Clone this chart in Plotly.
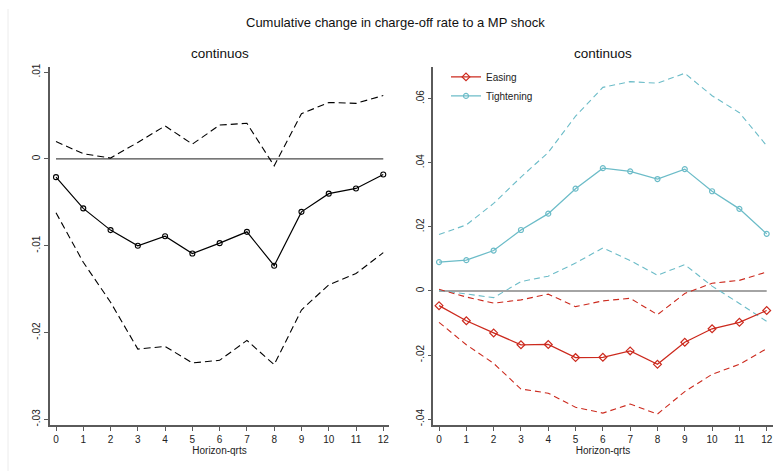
import plotly.graph_objects as go

# Horizon in quarters
horizon = list(range(13))

# Left panel: continuous shock response with bands
cont_mid = [-0.0021, -0.0057, -0.0082, -0.0100, -0.0089, -0.0109, -0.0097,
            -0.0084, -0.0123, -0.0061, -0.0040, -0.0034, -0.0018]
cont_hi = [0.0020, 0.0006, 0.0001, 0.0019, 0.0038, 0.0017, 0.0039,
           0.0041, -0.0008, 0.0052, 0.0065, 0.0064, 0.0073]
cont_lo = [-0.0062, -0.0119, -0.0165, -0.0219, -0.0216, -0.0235, -0.0232,
           -0.0209, -0.0237, -0.0174, -0.0145, -0.0132, -0.0108]

# Right panel: easing vs tightening
ease_mid = [-0.0046, -0.0093, -0.0131, -0.0168, -0.0167, -0.0208, -0.0207,
            -0.0187, -0.0229, -0.0160, -0.0118, -0.0098, -0.0061]
ease_hi = [0.0005, -0.0019, -0.0038, -0.0028, -0.0010, -0.0049, -0.0031,
           -0.0023, -0.0074, -0.0008, 0.0024, 0.0033, 0.0059]
ease_lo = [-0.0098, -0.0168, -0.0226, -0.0306, -0.0319, -0.0363, -0.0381,
           -0.0353, -0.0384, -0.0314, -0.0260, -0.0229, -0.0180]
tight_mid = [0.0090, 0.0096, 0.0126, 0.0190, 0.0241, 0.0319, 0.0383,
             0.0373, 0.0349, 0.0380, 0.0311, 0.0256, 0.0178]
tight_hi = [0.0176, 0.0206, 0.0273, 0.0355, 0.0432, 0.0545, 0.0635,
            0.0653, 0.0648, 0.0679, 0.0609, 0.0556, 0.0453]
tight_lo = [0.0002, -0.0010, -0.0021, 0.0029, 0.0046, 0.0087, 0.0134,
            0.0095, 0.0049, 0.0082, 0.0015, -0.0039, -0.0095]

left_ticks = [0.01, 0.0, -0.01, -0.02, -0.03]
left_ticktext = [".01", "0", "-.01", "-.02", "-.03"]
right_ticks = [0.06, 0.04, 0.02, 0.0, -0.02, -0.04]
right_ticktext = [".06", ".04", ".02", "0", "-.02", "-.04"]

W, H = 784, 472
FONT = "Liberation Sans, Arial, sans-serif"
AXIS_COL = "#5a5a5a"
RED = "#cc2a1e"
TEAL = "#6cbcc8"

fig = go.Figure()

# zero reference lines
for xa, ya in (("x", "y"), ("x2", "y2")):
    fig.add_trace(go.Scatter(x=[0, 12], y=[0, 0], mode="lines",
                             line=dict(color="#4a4a4a", width=1.1),
                             showlegend=False, hoverinfo="skip", xaxis=xa, yaxis=ya))

# left panel
for band in (cont_hi, cont_lo):
    fig.add_trace(go.Scatter(x=horizon, y=band, mode="lines",
                             line=dict(color="black", width=1.1, dash="7px,4px"),
                             showlegend=False, xaxis="x", yaxis="y"))
fig.add_trace(go.Scatter(x=horizon, y=cont_mid, mode="lines+markers",
                         line=dict(color="black", width=1.2),
                         marker=dict(symbol="circle-open", size=5, color="black",
                                     line=dict(width=1.1)),
                         showlegend=False, xaxis="x", yaxis="y"))

# right panel bands
for band in (tight_hi, tight_lo):
    fig.add_trace(go.Scatter(x=horizon, y=band, mode="lines",
                             line=dict(color=TEAL, width=1.1, dash="6px,4px"),
                             showlegend=False, xaxis="x2", yaxis="y2"))
for band in (ease_hi, ease_lo):
    fig.add_trace(go.Scatter(x=horizon, y=band, mode="lines",
                             line=dict(color=RED, width=1.1, dash="6px,4px"),
                             showlegend=False, xaxis="x2", yaxis="y2"))

fig.add_trace(go.Scatter(x=horizon, y=ease_mid, mode="lines+markers", name="Easing",
                         line=dict(color=RED, width=1.3),
                         marker=dict(symbol="diamond-open", size=6, color=RED,
                                     line=dict(width=1.2)),
                         xaxis="x2", yaxis="y2"))
fig.add_trace(go.Scatter(x=horizon, y=tight_mid, mode="lines+markers", name="Tightening",
                         line=dict(color=TEAL, width=1.3),
                         marker=dict(symbol="circle-open", size=5, color=TEAL,
                                     line=dict(width=1.2)),
                         xaxis="x2", yaxis="y2"))

xax = dict(range=[-0.22, 12.21], tickvals=horizon, ticks="outside", ticklen=4,
           tickcolor=AXIS_COL, showline=True, linecolor=AXIS_COL, linewidth=1.5,
           showgrid=False, zeroline=False,
           tickfont=dict(family=FONT, size=10, color="#222"),
           title=dict(text="Horizon-qrts", font=dict(family=FONT, size=10, color="#222"),
                      standoff=1))
yax = dict(ticks="outside", ticklen=4, tickcolor=AXIS_COL, showline=True,
           linecolor=AXIS_COL, linewidth=1.5, showgrid=False, zeroline=False,
           tickangle=-90, tickfont=dict(family=FONT, size=10, color="#222"))

y_dom = [1 - 425.7 / H, 1 - 64 / H]

fig.update_layout(
    width=W, height=H,
    margin=dict(l=0, r=0, t=0, b=0),
    paper_bgcolor="white", plot_bgcolor="white",
    xaxis=dict(xax, domain=[50 / W, 389 / W], anchor="y"),
    yaxis=dict(yax, domain=y_dom, anchor="x", range=[-0.03067, 0.01055],
               tickvals=left_ticks, ticktext=left_ticktext),
    xaxis2=dict(xax, domain=[433.3 / W, 772.7 / W], anchor="y2", range=[-0.21, 12.22]),
    yaxis2=dict(yax, domain=y_dom, anchor="x2", range=[-0.04188, 0.06975],
                tickvals=right_ticks, ticktext=right_ticktext),
    legend=dict(x=446 / W, y=1 - 59 / H, xanchor="left", yanchor="top",
                bgcolor="rgba(0,0,0,0)", font=dict(family=FONT, size=10, color="#222"),
                itemwidth=30, tracegroupgap=0),
    showlegend=True,
    annotations=[
        dict(text="Cumulative change in charge-off rate to a MP shock",
             x=396 / W, y=1 - 19 / H, xref="paper", yref="paper", showarrow=False,
             xanchor="center", yanchor="middle",
             font=dict(family=FONT, size=13, color="#111")),
        dict(text="continuos", x=219.5 / W, y=1 - 50.5 / H, xref="paper", yref="paper",
             showarrow=False, xanchor="center", yanchor="middle",
             font=dict(family=FONT, size=13.5, color="#111")),
        dict(text="continuos", x=603 / W, y=1 - 50.5 / H, xref="paper", yref="paper",
             showarrow=False, xanchor="center", yanchor="middle",
             font=dict(family=FONT, size=13.5, color="#111")),
    ],
    shapes=[
        dict(type="line", xref="paper", yref="paper", x0=8 / W, x1=8 / W,
             y0=0, y1=1 - 5 / H, line=dict(color="#ececec", width=1)),
    ],
)

fig.write_html("out.html")
